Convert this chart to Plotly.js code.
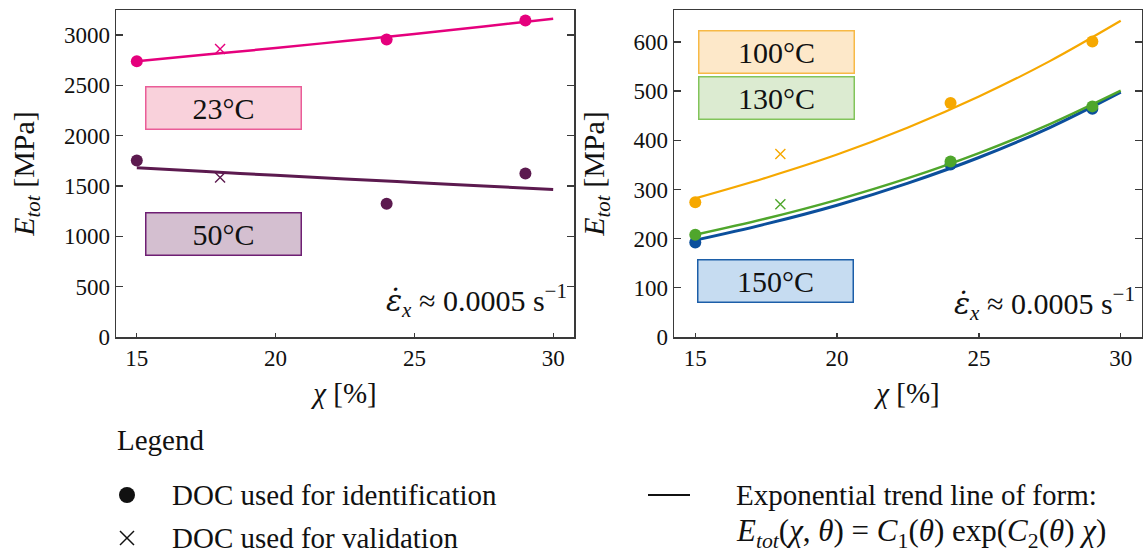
<!DOCTYPE html>
<html>
<head>
<meta charset="utf-8">
<script src="https://cdn.plot.ly/plotly-3.0.1.min.js"></script>
<style>html,body{margin:0;padding:0;background:#fff}#chart{width:1143px;height:555px}</style>
</head>
<body>
<div id="chart"></div>
<script>
// ---------- data ----------
const chiPoints = [15, 24, 29];          // identification DOC [%]
const chiValid = [18];                   // validation DOC [%]
const chiLine = [15, 17.5, 20, 22.5, 25, 27.5, 30];

const e23Points = [2738, 2955, 3143];
const e23Valid = [2861];
const e23Line = [2740, 2805, 2870, 2940, 3010, 3085, 3160];

const e50Points = [1752, 1323, 1624];
const e50Valid = [1585];
const e50Line = [1680, 1643, 1606, 1570, 1535, 1500, 1466];

const e100Points = [274, 476, 601];
const e100Valid = [372];
const e100Line = [282, 324, 371, 426, 489, 561, 643];

const e130Points = [208, 357, 469];
const e130Valid = [270];
const e130Line = [208, 241, 279, 323, 374, 433, 501];

const e150Points = [192, 351, 464];
const e150Line = [197, 230, 268, 313, 365, 426, 498];

const xTicks = [15, 20, 25, 30];
const yTicksLeft = [0, 500, 1000, 1500, 2000, 2500, 3000];
const yTicksRight = [0, 100, 200, 300, 400, 500, 600];

// ---------- styling ----------
const C = {
  c23: '#e5007d', c50: '#5c1a4f', c100: '#f6a800', c130: '#4fa62c', c150: '#0b4f9c'
};
const FONT = "'Liberation Serif', 'Times New Roman', serif";
const W = 1143, H = 555;
const px = v => v / W, py = v => 1 - v / H;

function lineTrace(x, y, color, xa, ya, w) {
  return {x, y, mode: 'lines', line: {color, width: w || 2.5, shape: 'spline'}, xaxis: xa, yaxis: ya, hoverinfo: 'skip', showlegend: false};
}
function dotTrace(x, y, color, xa, ya) {
  return {x, y, mode: 'markers', marker: {color, size: 12, symbol: 'circle'}, xaxis: xa, yaxis: ya, showlegend: false};
}
function crossTrace(x, y, color, xa, ya) {
  return {x, y, mode: 'markers', marker: {color, size: 10, symbol: 'x-thin', line: {color, width: 1.4}}, xaxis: xa, yaxis: ya, showlegend: false};
}

const traces = [
  lineTrace(chiLine, e23Line, C.c23, 'x', 'y'),
  dotTrace(chiPoints, e23Points, C.c23, 'x', 'y'),
  crossTrace(chiValid, e23Valid, C.c23, 'x', 'y'),
  lineTrace(chiLine, e50Line, C.c50, 'x', 'y', 3),
  dotTrace(chiPoints, e50Points, C.c50, 'x', 'y'),
  crossTrace(chiValid, e50Valid, C.c50, 'x', 'y'),

  lineTrace(chiLine, e150Line, C.c150, 'x2', 'y2', 3),
  dotTrace(chiPoints, e150Points, C.c150, 'x2', 'y2'),
  lineTrace(chiLine, e130Line, C.c130, 'x2', 'y2', 2.4),
  dotTrace(chiPoints, e130Points, C.c130, 'x2', 'y2'),
  crossTrace(chiValid, e130Valid, C.c130, 'x2', 'y2'),
  lineTrace(chiLine, e100Line, C.c100, 'x2', 'y2', 2.2),
  dotTrace(chiPoints, e100Points, C.c100, 'x2', 'y2'),
  crossTrace(chiValid, e100Valid, C.c100, 'x2', 'y2')
];

function axisCommon() {
  return {
    showgrid: false, zeroline: false, showline: true, linecolor: '#3a3a3a', linewidth: 1.5,
    ticks: 'inside', tickcolor: '#3a3a3a', tickwidth: 1.3,
    tickfont: {family: FONT, size: 23, color: '#111'}
  };
}
function xAxis(domain, anchor) {
  return Object.assign(axisCommon(), {
    domain, anchor, range: [14.25, 30.75], tickvals: xTicks, ticklen: 4, mirror: true,
    title: {text: '<i>χ</i> [%]', font: {family: FONT, size: 29, color: '#111'}, standoff: 12}
  });
}
function yAxis(range, ticks, anchor) {
  return Object.assign(axisCommon(), {
    domain: [py(337), py(10)], anchor, range, tickvals: ticks, ticklen: 7, mirror: 'ticks',
    title: {text: '<i>E</i><sub><i>tot</i></sub> [MPa]', font: {family: FONT, size: 30, color: '#111'}, standoff: 20}
  });
}

const layout = {
  width: W, height: H, margin: {l: 0, r: 0, t: 0, b: 0},
  font: {family: FONT, color: '#111'},
  paper_bgcolor: '#fff', plot_bgcolor: '#fff', showlegend: false,
  xaxis: xAxis([px(116), px(574)], 'y'),
  xaxis2: xAxis([px(674), px(1142)], 'y2'),
  yaxis: yAxis([0, 3248], yTicksLeft, 'x'),
  yaxis2: yAxis([0, 665], yTicksRight, 'x2'),
  annotations: [],
  shapes: []
};

function tempBox(text, cx, cy, fill, border) {
  layout.annotations.push({
    xref: 'paper', yref: 'paper', x: px(cx), y: py(cy), xanchor: 'center', yanchor: 'middle',
    text, showarrow: false, width: 154, height: 41, borderpad: 0,
    bgcolor: fill, bordercolor: border, borderwidth: 1.5,
    font: {family: FONT, size: 30, color: '#111'}
  });
}
tempBox('23°C', 223, 107.5, '#f9d1db', '#ea5d98');
tempBox('50°C', 223, 234, '#d4bfd0', '#6e1f73');
tempBox('100°C', 776.5, 52, '#fde8c9', '#f7b946');
tempBox('130°C', 776.5, 98, '#dcebd1', '#82c45a');
tempBox('150°C', 775, 281, '#c6dcf1', '#1c5ea8');

const rateText = "<span style=\"font-family:'DejaVu Serif'\"><i>ε̇</i></span><sub><i>x</i></sub> ≈ 0.0005 s<sup>−1</sup>";
layout.annotations.push({xref: 'paper', yref: 'paper', x: px(569), y: py(300), xanchor: 'right', yanchor: 'middle', text: rateText, showarrow: false, font: {family: FONT, size: 30, color: '#111'}});
layout.annotations.push({xref: 'paper', yref: 'paper', x: px(1137), y: py(303), xanchor: 'right', yanchor: 'middle', text: rateText, showarrow: false, font: {family: FONT, size: 30, color: '#111'}});

// legend block
const legFont = {family: FONT, size: 29, color: '#111'};
function legText(text, x, y, size) {
  layout.annotations.push({xref: 'paper', yref: 'paper', x: px(x), y: py(y), xanchor: 'left', yanchor: 'middle', text, showarrow: false, font: Object.assign({}, legFont, size ? {size} : {})});
}
legText('Legend', 115, 440);
legText('DOC used for identification', 170, 495);
legText('DOC used for validation', 170, 538);
legText('Exponential trend line of form:', 734, 495);
legText('<i>E<sub>tot</sub></i>(<i>χ</i>, <i>θ</i>) = <i>C</i><sub>1</sub>(<i>θ</i>)&nbsp;exp(<i>C</i><sub>2</sub>(<i>θ</i>)&nbsp;<i>χ</i>)', 734, 533, 31);

layout.shapes.push({type: 'circle', xref: 'paper', yref: 'paper', x0: px(119), x1: px(135), y0: py(503), y1: py(487), fillcolor: '#111', line: {color: '#111', width: 0}});
layout.shapes.push({type: 'line', xref: 'paper', yref: 'paper', x0: px(120), x1: px(134), y0: py(531), y1: py(545), line: {color: '#111', width: 1.5}});
layout.shapes.push({type: 'line', xref: 'paper', yref: 'paper', x0: px(120), x1: px(134), y0: py(545), y1: py(531), line: {color: '#111', width: 1.5}});
layout.shapes.push({type: 'line', xref: 'paper', yref: 'paper', x0: px(648), x1: px(690), y0: py(495), y1: py(495), line: {color: '#111', width: 2}});

Plotly.newPlot('chart', traces, layout, {displayModeBar: false, staticPlot: true});
</script>
</body>
</html>
